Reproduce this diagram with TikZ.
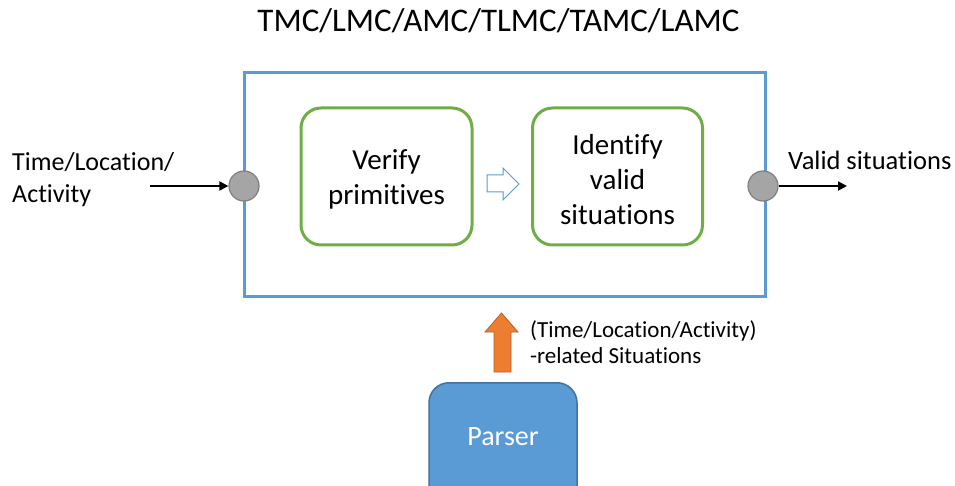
\documentclass[tikz,border=0pt]{standalone}
\usepackage{fontspec}
\setmainfont{Carlito}[Ligatures={NoCommon}]
\usetikzlibrary{arrows.meta}
\definecolor{boxblue}{HTML}{5B9BD5}
\definecolor{boxgreen}{HTML}{70AD47}
\definecolor{portgray}{HTML}{A5A5A5}
\definecolor{portedge}{HTML}{7F7F7F}
\definecolor{arroworange}{HTML}{ED7D31}
\definecolor{orangeedge}{HTML}{B9602A}
\definecolor{parseredge}{HTML}{41719C}
\tikzset{
  frame/.style={draw=boxblue, line width=3pt, inner sep=0pt},
  stepbox/.style={draw=boxgreen, line width=3pt, rounded corners=20pt, inner sep=0pt,
    minimum height=137pt},
  steptext/.style={inner sep=0pt, align=center, font=\fontsize{29}{35}\selectfont},
  port/.style={circle, fill=portgray, draw=portedge, line width=1.2pt, minimum size=30pt, inner sep=0pt},
  flow/.style={line width=2pt, -{Triangle[length=9pt,width=9pt]}},
  lbl/.style={inner sep=0pt, align=left},
  parserbox/.style={draw=parseredge, fill=boxblue, line width=1.5pt, rounded corners=20pt,
    inner sep=0pt}
}
\begin{document}
\begin{tikzpicture}[x=1pt,y=-1pt]
\useasboundingbox (0,0) rectangle (955,486);
\clip (0,0) rectangle (955,486);
\fill[white] (0,0) rectangle (955,486);

\node[inner sep=0pt, anchor=base, font=\fontsize{33}{40}\selectfont] (title) at (498.5,32) {TMC/LMC/AMC/TLMC/TAMC/LAMC};

\node[frame, minimum width=521pt, minimum height=223pt] (frame) at (504.5,184.5) {};

\node[stepbox, minimum width=171pt] (verify) at (386.5,176.5) {};
\node[stepbox, minimum width=170pt] (identify) at (617.5,176.5) {};
\node[steptext, anchor=base] (verifytext) at (386.5,205) {Verify\\primitives};
\node[steptext, anchor=base] (identifytext) at (617.5,225) {Identify\\valid\\situations};

\draw[boxblue, line width=1pt, fill=white]
  (487,175) -- (503,175) -- (503,168) -- (519,184) -- (503,200) -- (503,192) -- (487,192) -- cycle;

\node[port] (inport) at (244,186) {};
\node[port] (outport) at (763,186) {};
\coordinate (instart) at (150,186);
\coordinate (outend) at (847,186);
\draw[flow] (instart) -- (inport.west);
\draw[flow] (outport.east) -- (outend);

\node[lbl, anchor=base west, font=\fontsize{26}{32}\selectfont] (inlabel) at (12,203) {Time/Location/\\Activity};
\node[lbl, anchor=base west, font=\fontsize{26.5}{32}\selectfont] (outlabel) at (788,170) {Valid situations};

\node[parserbox, minimum width=148pt, minimum height=140pt, anchor=north] (parser) at (503,382) {};
\node[inner sep=0pt, anchor=base, text=white, font=\fontsize{28}{34}\selectfont] (parsertext) at (503,445) {Parser};

\draw[draw=orangeedge, fill=arroworange, line width=0.8pt]
  (494,372) -- (494,332) -- (485,332) -- (501.5,313) -- (518,332) -- (511,332) -- (511,372) -- cycle;

\node[lbl, anchor=base west, font=\fontsize{23}{26}\selectfont] (sitlabel) at (530,363) {(Time/Location/Activity)\\-related Situations};
\end{tikzpicture}
\end{document}
